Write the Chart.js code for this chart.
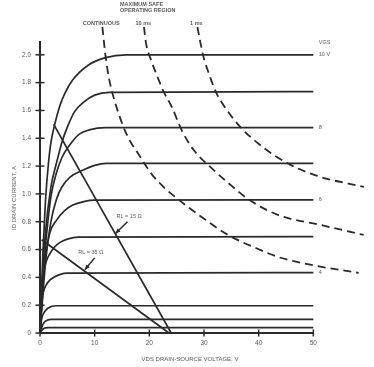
<!DOCTYPE html>
<html><head><meta charset="utf-8">
<script src="https://cdn.jsdelivr.net/npm/chart.js@4"></script>
<style>html,body{margin:0;padding:0;background:#fff}#wrap{width:374px;height:367px}</style>
</head><body><div id="wrap"><canvas id="c" width="374" height="367"></canvas></div>
<script>
// ---- tick labels ----
const xTickValues = [0, 10, 20, 30, 40, 50];
const xTickLabels = ['0', '10', '20', '30', '40', '50'];
const yTickValues = [0, 0.2, 0.4, 0.6, 0.8, 1.0, 1.2, 1.4, 1.6, 1.8, 2.0];
const yTickLabels = ['0', '0.2', '0.4', '0.6', '0.8', '1.0', '1.2', '1.4', '1.6', '1.8', '2.0'];

// ---- drain characteristic curves, [V_DS, I_D] ----
const vgs10 = [[0,0],[0.5,0.55],[1,0.95],[1.5,1.2],[2,1.37],[2.7,1.5],[3.6,1.63],[4.5,1.72],[6,1.82],[9,1.93],[12,1.98],[15.7,2.0],[50,2.0]];
const vgs9  = [[0,0],[0.5,0.4],[1,0.72],[2,1.05],[3,1.22],[4,1.37],[5,1.48],[6.3,1.59],[8,1.66],[10,1.71],[12.7,1.73],[50,1.736]];
const vgs8  = [[0,0],[0.5,0.35],[1,0.62],[2,0.98],[3,1.15],[4,1.26],[5.4,1.35],[7.2,1.43],[9,1.46],[12,1.477],[50,1.477]];
const vgs7  = [[0,0],[1,0.5],[2,0.8],[3,0.96],[4,1.05],[5.5,1.12],[7.8,1.17],[10,1.205],[12,1.22],[50,1.22]];
const vgs6  = [[0,0],[0.5,0.35],[1,0.55],[1.8,0.72],[3,0.81],[4.5,0.88],[6,0.92],[8,0.945],[10,0.955],[50,0.957]];
const vgs5  = [[0,0],[0.3,0.28],[0.6,0.42],[1.2,0.52],[1.8,0.57],[2.7,0.62],[3.6,0.65],[5,0.675],[7,0.69],[50,0.693]];
const vgs4  = [[0,0],[0.3,0.2],[0.6,0.29],[1.2,0.35],[1.8,0.38],[2.7,0.405],[3.6,0.42],[5,0.43],[50,0.434]];
const vgs3  = [[0,0],[0.3,0.1],[0.8,0.15],[1.5,0.18],[3,0.196],[50,0.196]];
const vgs2  = [[0,0],[0.5,0.06],[1,0.085],[2,0.098],[50,0.098]];
const vgs1  = [[0,0],[0.6,0.03],[1.5,0.038],[50,0.038]];

// ---- load lines ----
const loadLine15 = [[2.5,1.5],[24,0]];
const loadLine35 = [[0.3,0.67],[23.6,0]];

// ---- maximum safe operating region boundaries ----
const socContinuous = [[11.41,2.2],[11.96,2.0],[12.68,1.82],[13.95,1.63],[15.94,1.42],[18.12,1.28],[20.47,1.14],[22.6,1.05],[25.4,0.957],[29,0.85],[34.4,0.705],[39.9,0.604],[43.5,0.547],[50.7,0.482],[58.3,0.432]];
const soa10ms = [[19.02,2.2],[19.38,2.086],[20.3,1.964],[21.2,1.87],[22.64,1.734],[24.1,1.626],[25.9,1.46],[28.08,1.317],[31.34,1.187],[34.4,1.08],[38.04,0.964],[43.5,0.849],[51.3,0.777],[59.2,0.705]];
const soa1ms = [[28.8,2.2],[29.35,2.086],[29.9,1.986],[30.98,1.856],[32.25,1.727],[34.42,1.59],[36.78,1.475],[40.94,1.331],[45.83,1.209],[50.72,1.129],[59.24,1.05]];

// ---- axes extents ----
const xAxisLine = [[0,0],[50,0]];
const yAxisLine = [[0,0],[0,2.1]];

// ---- labels ----
const vgsHeader = 'VGS';
const vgsLabels = [['10 V', 2.0], ['8', 1.477], ['6', 0.957], ['4', 0.434]];
const soaLabels = [['CONTINUOUS', 11.2], ['10 ms', 18.9], ['1 ms', 28.6]];
const loadLabels = [['RL = 15 Ω', 14, 0.84, 16, 0.8, 13.8, 0.715], ['RL = 35 Ω', 7, 0.58, 10, 0.54, 8.2, 0.455]];

const INK = '#2a2a2a';
const TXT = '#5a5a5a';
const pts = a => a.map(p => ({x: p[0], y: p[1]}));

const curve = (d) => ({data: pts(d), borderColor: INK, borderWidth: 1.7, pointRadius: 0, fill: false, cubicInterpolationMode: 'monotone', clip: false});
const dashed = (d) => ({data: pts(d), borderColor: INK, borderWidth: 1.8, borderDash: [8, 5], pointRadius: 0, fill: false, cubicInterpolationMode: 'monotone', clip: false});
const straight = (d, w) => ({data: pts(d), borderColor: INK, borderWidth: w, pointRadius: 0, fill: false, tension: 0, clip: false});

const datasets = [
  curve(vgs10), curve(vgs9), curve(vgs8), curve(vgs7), curve(vgs6),
  curve(vgs5), curve(vgs4), curve(vgs3), curve(vgs2), curve(vgs1),
  straight(loadLine15, 1.7), straight(loadLine35, 1.7),
  dashed(socContinuous), dashed(soa10ms), dashed(soa1ms),
  straight(xAxisLine, 2), straight(yAxisLine, 2),
  {data: xTickValues.map(v => ({x: v, y: 0})), showLine: false, pointStyle: 'line', rotation: 90, pointRadius: 3.5, borderColor: INK, borderWidth: 1.5, clip: false},
  {data: yTickValues.map(v => ({x: 0, y: v})), showLine: false, pointStyle: 'line', rotation: 0, pointRadius: 4.5, borderColor: INK, borderWidth: 1.5, clip: false}
];

const annot = {
  id: 'annot',
  afterDatasetsDraw(chart) {
    const {ctx, scales: {x, y}} = chart;
    ctx.save();
    ctx.fillStyle = TXT;
    ctx.textBaseline = 'middle';
    // SOA title
    ctx.font = 'bold 5.5px "Liberation Sans", Arial, sans-serif';
    ctx.textAlign = 'left';
    ctx.fillText('MAXIMUM SAFE', 120, 4.5);
    ctx.fillText('OPERATING REGION', 120, 10.5);
    ctx.textAlign = 'center';
    soaLabels.forEach(([t, v]) => ctx.fillText(t, x.getPixelForValue(v), 23.5));
    // VGS labels
    ctx.font = '5.5px "Liberation Sans", Arial, sans-serif';
    ctx.textAlign = 'left';
    ctx.fillText(vgsHeader, x.getPixelForValue(51), 42);
    vgsLabels.forEach(([t, v]) => ctx.fillText(t, x.getPixelForValue(51), y.getPixelForValue(v)));
    // load line labels + arrows
    ctx.font = '5.5px "Liberation Sans", Arial, sans-serif';
    loadLabels.forEach(([t, lx, ly, ax, ay, tx, ty]) => {
      ctx.fillStyle = TXT;
      ctx.fillText(t, x.getPixelForValue(lx), y.getPixelForValue(ly));
      const x0 = x.getPixelForValue(ax), y0 = y.getPixelForValue(ay);
      const x1 = x.getPixelForValue(tx), y1 = y.getPixelForValue(ty);
      ctx.strokeStyle = INK; ctx.lineWidth = 1.5;
      ctx.beginPath(); ctx.moveTo(x0, y0); ctx.lineTo(x1, y1); ctx.stroke();
      const a = Math.atan2(y1 - y0, x1 - x0);
      ctx.fillStyle = INK;
      ctx.beginPath();
      ctx.moveTo(x1, y1);
      ctx.lineTo(x1 - 5 * Math.cos(a) + 2.2 * Math.sin(a), y1 - 5 * Math.sin(a) - 2.2 * Math.cos(a));
      ctx.lineTo(x1 - 5 * Math.cos(a) - 2.2 * Math.sin(a), y1 - 5 * Math.sin(a) + 2.2 * Math.cos(a));
      ctx.closePath(); ctx.fill();
    });
    // axis titles
    ctx.fillStyle = TXT;
    ctx.font = '6px "Liberation Sans", Arial, sans-serif';
    ctx.textAlign = 'center';
    ctx.fillText('VDS DRAIN-SOURCE VOLTAGE, V', 190, 359);
    ctx.translate(14, 198);
    ctx.rotate(-Math.PI / 2);
    ctx.fillText('ID DRAIN CURRENT, A', 0, 0);
    ctx.restore();
  }
};

const tickFont = {family: '"Liberation Sans", Arial, sans-serif', size: 6.5};
new Chart(document.getElementById('c'), {
  type: 'line',
  data: {datasets},
  options: {
    responsive: false, animation: false, devicePixelRatio: 1,
    layout: {padding: {top: 27, right: 3, left: 0, bottom: 0}},
    plugins: {legend: {display: false}, tooltip: {enabled: false}},
    scales: {
      x: {
        type: 'linear', min: 0, max: 60,
        grid: {display: false, drawTicks: false}, border: {display: false},
        afterBuildTicks: s => { s.ticks = xTickValues.map(v => ({value: v})); },
        ticks: {font: tickFont, color: TXT, padding: 6, maxRotation: 0, autoSkip: false,
          callback: (v, i) => xTickLabels[i]},
        afterFit: s => { s.height = 34; }
      },
      y: {
        type: 'linear', min: 0, max: 2.2,
        grid: {display: false, drawTicks: false}, border: {display: false},
        afterBuildTicks: s => { s.ticks = yTickValues.map(v => ({value: v})); },
        ticks: {font: tickFont, color: TXT, padding: 9, autoSkip: false,
          callback: (v, i) => yTickLabels[i]},
        afterFit: s => { s.width = 40; }
      }
    }
  },
  plugins: [annot]
});
</script></body></html>
